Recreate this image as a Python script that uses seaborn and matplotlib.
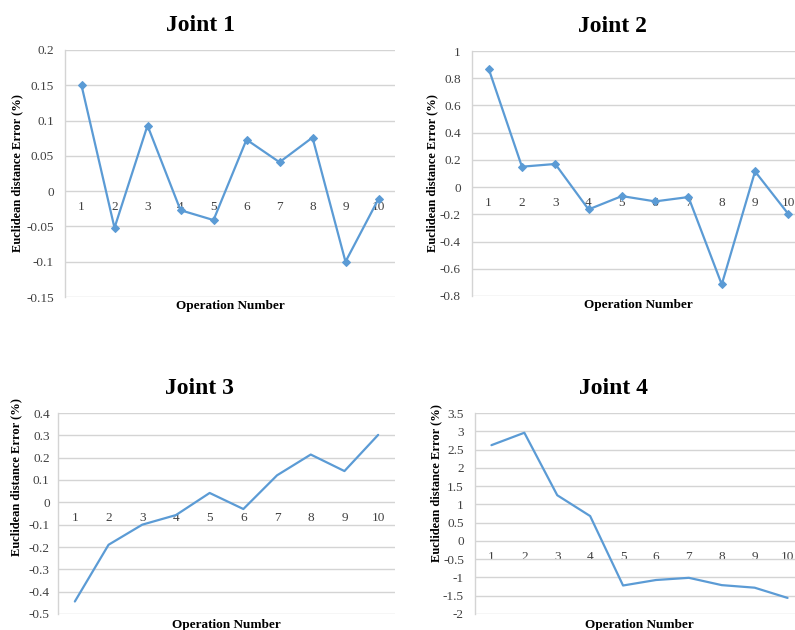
import numpy as np
import pandas as pd
import matplotlib
matplotlib.use("Agg")
import matplotlib.pyplot as plt
from matplotlib.ticker import FuncFormatter, MultipleLocator
import seaborn as sns

operations = [1, 2, 3, 4, 5, 6, 7, 8, 9, 10]
joint1 = [0.15, -0.052, 0.093, -0.027, -0.041, 0.073, 0.041, 0.076, -0.100, -0.011]
joint2 = [0.87, 0.15, 0.17, -0.164, -0.066, -0.105, -0.073, -0.715, 0.115, -0.198]
joint3 = [-0.444, -0.19, -0.10, -0.057, 0.042, -0.03, 0.121, 0.214, 0.14, 0.302]
joint4 = [2.62, 2.96, 1.25, 0.68, -1.22, -1.07, -1.01, -1.21, -1.28, -1.56]
titles = ["Joint 1", "Joint 2", "Joint 3", "Joint 4"]
ylabel = "Euclidean distance Error (%)"
xlabel = "Operation Number"

sns.set_theme(style="white")
plt.rcParams["font.family"] = ["Liberation Serif", "DejaVu Serif"]

W, H = 795, 630
fig = plt.figure(figsize=(W / 100, H / 100), dpi=100)

def px_axes(left, top, right, bottom):
    return fig.add_axes([left / W, 1 - bottom / H, (right - left) / W, (bottom - top) / H])

panels = [
    dict(box=(65, 50, 395, 297), data=joint1, lim=(-0.15, 0.2), step=0.05, marker="D",
         title_x=0.41, ylab=(-0.127, 0.5), xlab=(0.5, -0.012), ypad=8),
    dict(box=(472, 51, 805, 296), data=joint2, lim=(-0.8, 1.0), step=0.2, marker="D",
         title_x=0.423, ylab=(-0.102, 0.5), xlab=(0.5, -0.012), ypad=8),
    dict(box=(58, 413, 395, 614), data=joint3, lim=(-0.5, 0.4), step=0.1, marker=None,
         title_x=0.42, ylab=(-0.105, 0.68), xlab=(0.5, -0.025), ypad=6),
    dict(box=(475, 413, 804, 614), data=joint4, lim=(-2.0, 3.5), step=0.5, marker=None,
         title_x=0.42, ylab=(-0.100, 0.65), xlab=(0.5, -0.025), ypad=8),
]

line_color = "#5B9BD5"
grid_color = "#D4D4D4"
text_color = "#404040"

fmt = FuncFormatter(lambda v, p: ("%g" % round(v, 4)).replace("−", "-"))

for title, p in zip(titles, panels):
    ax = px_axes(*p["box"])
    df = pd.DataFrame({"op": operations, "err": p["data"]})
    sns.lineplot(data=df, x="op", y="err", ax=ax, color=line_color, linewidth=1.6,
                 marker=p["marker"], markersize=4 if p["marker"] else 0,
                 markeredgecolor=line_color, markerfacecolor=line_color)
    ax.set_xlim(0.5, 10.5)
    ax.set_ylim(*p["lim"])
    ax.yaxis.set_major_locator(MultipleLocator(p["step"]))
    ax.yaxis.set_major_formatter(fmt)
    ax.set_xticks(operations)
    ax.set_xticklabels([str(o) for o in operations])
    ax.grid(axis="y", color=grid_color, linewidth=1.0)
    ax.grid(axis="x", visible=False)
    ax.set_axisbelow(True)
    for s in ["top", "right"]:
        ax.spines[s].set_visible(False)
    ax.spines["left"].set_color(grid_color)
    ax.spines["left"].set_linewidth(1.0)
    ax.spines["bottom"].set_position(("data", 0))
    ax.spines["bottom"].set_visible(False)
    ax.tick_params(axis="x", length=0, pad=7, labelsize=9.5, labelcolor=text_color)
    ax.tick_params(axis="y", length=0, pad=p["ypad"], labelsize=9.5, labelcolor=text_color)
    ax.set_title(title, x=p["title_x"], pad=14, fontsize=17, fontweight="bold", color="black")
    ax.set_ylabel(ylabel, fontsize=9, fontweight="bold", color="black")
    ax.yaxis.set_label_coords(*p["ylab"])
    ax.set_xlabel(xlabel, fontsize=9.5, fontweight="bold", color="black")
    ax.xaxis.set_label_coords(*p["xlab"])

fig.savefig("out.png", dpi=100, facecolor="white")
